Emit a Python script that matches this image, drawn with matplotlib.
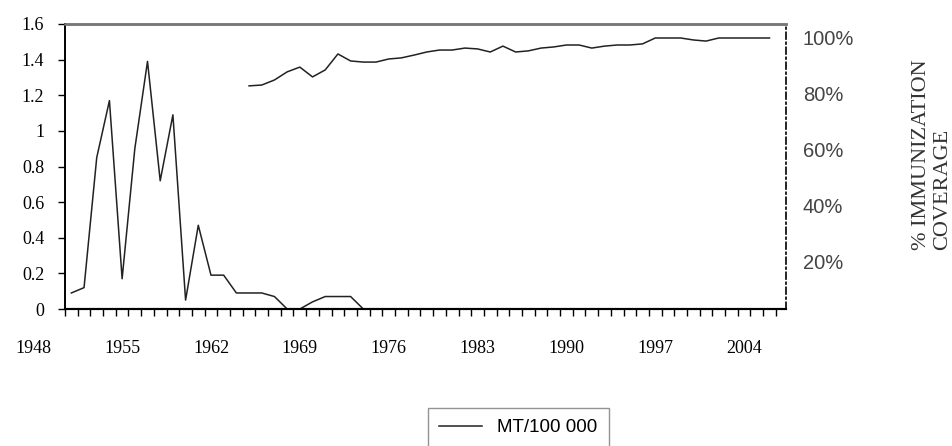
import matplotlib
matplotlib.use("Agg")
import matplotlib.pyplot as plt
import matplotlib.transforms as mtransforms
import numpy as np

# ---- data ----
mt_years = list(range(1951, 2007))
mt_values = [0.09, 0.12, 0.85, 1.17, 0.17, 0.90, 1.39, 0.72, 1.09, 0.05,
             0.47, 0.19, 0.19, 0.09, 0.09, 0.09, 0.07, 0.00, 0.00, 0.04,
             0.07, 0.07, 0.07, 0.00] + [0.0] * (2006 - 1974)

cov_years = list(range(1965, 2007))
cov_values = [82.9, 83.2, 85.0, 87.9, 89.6, 86.1, 88.6, 94.3, 91.8, 91.4,
              91.4, 92.5, 92.9, 93.9, 95.0, 95.7, 95.7, 96.4, 96.1, 95.0,
              97.1, 95.0, 95.4, 96.4, 96.8, 97.5, 97.5, 96.4, 97.1, 97.5,
              97.5, 97.9, 100.0, 100.0, 100.0, 99.3, 98.9, 100.0, 100.0, 100.0,
              100.0, 100.0]

x_label_years = [1948, 1955, 1962, 1969, 1976, 1983, 1990, 1997, 2004]
left_ticks = [0, 0.2, 0.4, 0.6, 0.8, 1.0, 1.2, 1.4, 1.6]
left_labels = ["0", "0.2", "0.4", "0.6", "0.8", "1", "1.2", "1.4", "1.6"]
right_ticks = [20, 40, 60, 80, 100]
right_labels = ["20%", "40%", "60%", "80%", "100%"]
legend_label = "MT/100 000"
right_title = "% IMMUNIZATION\nCOVERAGE"

# ---- figure ----
W, H = 953, 446
fig = plt.figure(figsize=(W / 100, H / 100), dpi=100)
ax = fig.add_axes([65 / W, 1 - 309 / H, (786 - 65) / W, (309 - 24) / H])
ax2 = ax.twinx()

serif = ["Liberation Serif", "DejaVu Serif"]
sans = ["Liberation Sans", "DejaVu Sans"]

line_mt, = ax.plot(mt_years, mt_values, color="#222222", lw=1.1,
                   label=legend_label, zorder=3)
ax2.plot(cov_years, cov_values, color="#222222", lw=1.1, zorder=3)

ax.set_xlim(1950.5, 2007.3)
ax.set_ylim(0, 1.6)
ax2.set_ylim(3.2, 105)

# left axis
ax.set_yticks(left_ticks)
ax.set_yticklabels(left_labels, fontfamily=serif, fontsize=13)
ax.tick_params(axis="y", direction="out", length=5, width=1, pad=10)

# x axis: ticks between categories, labels as text
ax.set_xticks([])
ax.set_xticks(np.arange(1950.5, 2007.4, 1.0), minor=True)
ax.tick_params(axis="x", which="minor", direction="out", length=5, width=1)
trans = mtransforms.blended_transform_factory(ax.transData, ax.transAxes)
for yr in x_label_years:
    ax.text(yr, -0.14, str(yr), transform=trans, ha="center", va="center",
            fontfamily=serif, fontsize=13, clip_on=False)

# right axis
ax2.set_yticks(right_ticks)
ax2.set_yticklabels(right_labels, fontfamily=sans, fontsize=14.5, color="#444444")
ax2.tick_params(axis="y", length=0, pad=12)

# spines
for a in (ax, ax2):
    a.spines["top"].set_color("#777777")
    a.spines["top"].set_linewidth(1.8)
    a.spines["left"].set_linewidth(1.2)
    a.spines["bottom"].set_linewidth(1.5)
ax2.spines["right"].set_linestyle((0, (4, 2, 1, 2)))
ax2.spines["right"].set_linewidth(1.2)
ax.spines["right"].set_visible(False)

fig.text(932 / W, 1 - 250 / H, right_title, rotation=90, ha="center",
         va="bottom", multialignment="left", fontfamily=serif, fontsize=16,
         color="#333333", linespacing=1.2)

leg = fig.legend(handles=[line_mt], loc="upper left",
                 bbox_to_anchor=(428 / W, 1 - 408 / H), borderaxespad=0,
                 prop={"family": sans, "size": 13.5}, frameon=True,
                 fancybox=False, handlelength=2.3, borderpad=0.6)
leg.get_frame().set_edgecolor("#777777")
leg.get_frame().set_linewidth(1.0)

fig.savefig("out.png", dpi=100)
